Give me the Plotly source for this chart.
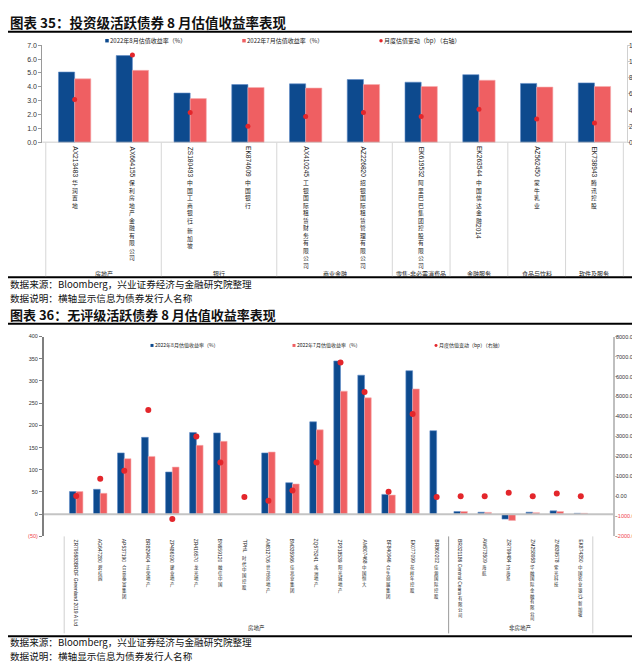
import re
import plotly.graph_objects as go

W, H = 640, 663

# ---------------- Chart 35 data ----------------
c1_labels = ["AX213483华润置地", "AX664155保利房地产金融有限公司", "ZS180493中国工商银行\\新加坡",
             "EK874609中国银行", "AX410245工银国际租赁财务有限公司", "AZ226820招银国际租赁管理有限公司",
             "EK619532阿里巴巴集团控股有限公司", "EK263544中国信达金融 2014", "AZ562450蒙牛乳业",
             "EK738943腾讯控股"]
c1_aug = [5.07, 6.25, 3.56, 4.17, 4.22, 4.53, 4.34, 4.88, 4.25, 4.29]
c1_jul = [4.58, 5.19, 3.16, 3.96, 3.92, 4.17, 4.03, 4.48, 3.99, 4.03]
c1_chg = [53, 108, 37, 20, 32, 37, 32, 41, 29, 24]
c1_group_names = ["房地产", "银行", "商业金融", "零售-非必需消费品", "金融服务", "食品与饮料", "软件及服务"]
c1_group_sizes = [2, 2, 2, 1, 1, 1, 1]
c1_left_ticks = [0, 1, 2, 3, 4, 5, 6, 7]
c1_right_ticks = [0, 20, 40, 60, 80, 100, 120]

# ---------------- Chart 36 data ----------------
c2_labels = ["ZR795683BRDF Greenland 2019 A Ltd", "AG647280碧桂园", "AP537190合景泰富集团",
             "BR829404正荣地产", "ZP486190建业地产", "ZR416570龙光地产", "BN659120融信中国",
             "TPHL 时代中国控股", "AM812706世茂房地产", "BM335966佳兆业集团", "ZQ575241禹洲地产",
             "ZP318539阳光城地产", "AM807468中国恒大", "BF840646合生创展集团", "EK077099花样年控股",
             "BR860202佳源国际控股", "BR321186 Central Ceara有限公司", "AW573509海航",
             "ZR799484泛海系", "ZM258958华融国际金融有限公司", "ZN839578紫光科技",
             "EK874350中国农业银行\\新加坡"]
c2_aug = [51, 56, 138, 173, 95, 184, 183, None, 138, 71, 208, 345, 313, 44.6, 323, 188,
          6, 4.5, -11, 4.5, 7.5, 2]
c2_jul = [51, 47, 125, 130, 106, 155, 164, None, 140, 68, 190, 277, 262, 43, 282, None,
          6, 4, -14, 3.5, 6, 2]
c2_chg = [20, 880, 1290, 4320, -1130, 3000, 1700, -30, -220, 300, 1700, 6700, 5230, 230,
          4120, -30, 15, 15, 180, 15, 150, 15]
c2_group_names = ["房地产", "非房地产"]
c2_group_sizes = [16, 6]
c2_left_ticks = [-50, 0, 50, 100, 150, 200, 250, 300, 350, 400]
c2_right_ticks = [-2000, -1000, 0, 1000, 2000, 3000, 4000, 5000, 6000, 7000, 8000]

legend_texts = ["2022年8月估值收益率（%）", "2022年7月估值收益率（%）", "月度估值变动（bp）（右轴）"]
title1 = "图表 35：投资级活跃债券 8 月估值收益率表现"
title2 = "图表 36：无评级活跃债券 8 月估值收益率表现"
src_text = "数据来源：Bloomberg，兴业证券经济与金融研究院整理"
note_text = "数据说明：横轴显示信息为债券发行人名称"

BLUE = '#0D4A8E'
RED = '#EF5F62'
DOT = '#E3262B'
NEG = '#F0454A'
CJK = "Noto Sans CJK SC"
LAT = "Liberation Sans"


def yp(y):
    return 1 - y / H


def xp(x):
    return x / W


fig = go.Figure()

# chart 35 traces
fig.add_trace(go.Bar(x=c1_labels, y=c1_aug, xaxis='x', yaxis='y',
                     marker=dict(color=BLUE, line=dict(color='#5F8CC8', width=0.6))))
fig.add_trace(go.Bar(x=c1_labels, y=c1_jul, xaxis='x', yaxis='y',
                     marker=dict(color=RED, line=dict(color='#F7AFB0', width=0.6))))
fig.add_trace(go.Scatter(x=c1_labels, y=c1_chg, xaxis='x', yaxis='y2', mode='markers',
                         marker=dict(color=DOT, size=5)))
# chart 36 traces
fig.add_trace(go.Bar(x=c2_labels, y=c2_aug, xaxis='x2', yaxis='y3',
                     marker=dict(color=BLUE, line=dict(color='#5F8CC8', width=0.6))))
fig.add_trace(go.Bar(x=c2_labels, y=c2_jul, xaxis='x2', yaxis='y3',
                     marker=dict(color=RED, line=dict(color='#F7AFB0', width=0.6))))
fig.add_trace(go.Scatter(x=c2_labels, y=c2_chg, xaxis='x2', yaxis='y4', mode='markers',
                         marker=dict(color=DOT, size=6)))

# geometry (pixels)
C1_L, C1_R, C1_T, C1_B = 34.3, 618.8, 33.5, 132
C2_L, C2_R, C2_T, C2_B = 36, 605, 328, 530

hidden_x = dict(showticklabels=False, showline=False, ticks='', showgrid=False, zeroline=False,
                type='category', fixedrange=True)


def neg_span(s):
    return "<span style='color:%s'>%s</span>" % (NEG, s)


fig.update_layout(
    width=W, height=H, autosize=False, showlegend=False,
    margin=dict(l=0, r=0, t=0, b=0),
    paper_bgcolor='white', plot_bgcolor='rgba(0,0,0,0)',
    barmode='group', bargap=0.44, bargroupgap=0,
    font=dict(family=CJK, color='#222'),
    xaxis=dict(domain=[xp(C1_L), xp(C1_R)], anchor='y', **hidden_x),
    yaxis=dict(domain=[yp(C1_B), yp(C1_T)], anchor='x', range=[0, 7],
               tickvals=c1_left_ticks, ticktext=['%.1f' % v for v in c1_left_ticks],
               ticks='outside', ticklen=3, tickcolor='#9a9a9a', showline=True, linecolor='#9a9a9a',
               linewidth=1, showgrid=False, zeroline=False, tickfont=dict(family=LAT, size=7, color='#333')),
    yaxis2=dict(overlaying='y', side='right', anchor='x', range=[0, 120],
                tickvals=c1_right_ticks, showticklabels=False,
                ticks='outside', ticklen=2, tickcolor='#c8c8c8', showline=True, linecolor='#d0d0d0',
                linewidth=1, showgrid=False, zeroline=False),
    xaxis2=dict(domain=[xp(C2_L), xp(C2_R)], anchor='y3', **hidden_x),
    yaxis3=dict(domain=[yp(C2_B), yp(C2_T)], anchor='x2', range=[-50, 400],
                tickvals=c2_left_ticks,
                ticktext=[neg_span('(%d)' % -v) if v < 0 else str(v) for v in c2_left_ticks],
                ticks='outside', ticklen=3, tickcolor='#7f7f7f', showline=True, linecolor='#7f7f7f',
                linewidth=2, showgrid=False, zeroline=False, tickfont=dict(family=LAT, size=5.5, color='#333')),
    yaxis4=dict(overlaying='y3', side='right', anchor='x2', range=[-2000, 8000],
                tickvals=c2_right_ticks, showticklabels=False,
                ticks='outside', ticklen=2, tickcolor='#bfbfbf', showline=True, linecolor='#bfbfbf',
                linewidth=2, showgrid=False, zeroline=False),
)

shapes = []
ann = []


def hline(y, x0=0, x1=W, color='black', width=2):
    shapes.append(dict(type='line', xref='paper', yref='paper', x0=xp(x0), x1=xp(x1),
                       y0=yp(y), y1=yp(y), line=dict(color=color, width=width)))


def text(x, y, s, size, color='#111', anchor='left', family=CJK):
    ann.append(dict(x=xp(x), y=yp(y), xref='paper', yref='paper', text=s, showarrow=False,
                    xanchor=anchor, yanchor='middle', font=dict(size=size, color=color, family=family),
                    borderpad=0, borderwidth=0))


# right-axis tick labels, positioned with the right axes' own scales
for v in c1_right_ticks:
    ann.append(dict(x=xp(620.5), xref='paper', y=v, yref='y2', text=str(v), showarrow=False,
                    xanchor='left', yanchor='middle', font=dict(size=6.5, family=LAT, color='#333'),
                    borderpad=0, borderwidth=0))
for v in c2_right_ticks:
    s = neg_span('%.2f' % v) if v < 0 else '%.2f' % v
    ann.append(dict(x=xp(607.5), xref='paper', y=v, yref='y4', text=s, showarrow=False,
                    xanchor='left', yanchor='middle', font=dict(size=5.5, family=LAT, color='#333'),
                    borderpad=0, borderwidth=0))

# titles, rules, notes
text(2, 10, "<b>%s</b>" % title1, 13.5)
hline(20)
hline(268)
text(2, 275, src_text, 9.6)
text(2, 289, note_text, 9.6)
text(2, 305.5, "<b>%s</b>" % title2, 13)
hline(315)
hline(631)
text(2, 637, src_text, 9.6)
text(2, 651, note_text, 9.6)

# baselines
shapes.append(dict(type='line', xref='paper', yref='y', x0=xp(C1_L), x1=xp(C1_R), y0=0, y1=0,
                   line=dict(color='#bdbdbd', width=1.5)))
shapes.append(dict(type='line', xref='paper', yref='y3', x0=xp(C2_L), x1=xp(C2_R), y0=0, y1=0,
                   line=dict(color='#c4c4c4', width=2)))


# legends
def legend(y, xs, size, sq):
    cols = [BLUE, RED, DOT]
    for i, (x, t) in enumerate(zip(xs, legend_texts)):
        kind = 'rect' if i < 2 else 'circle'
        shapes.append(dict(type=kind, xref='paper', yref='paper', x0=xp(x - sq / 2), x1=xp(x + sq / 2),
                           y0=yp(y + sq / 2), y1=yp(y - sq / 2), fillcolor=cols[i], line=dict(width=0)))
        text(x + sq / 2 + 1, y, t, size, color='#222')


legend(29, [99, 236, 373], 6, 3.5)
legend(337, [144, 286, 428], 5, 3)

# vertical category labels (Latin rotated, CJK upright and stacked)
CJK_RE = r'[\u3000-\u303f\u4e00-\u9fff\uff00-\uffef]'
SEG = re.compile(CJK_RE + '+|[^\u3000-\u303f\u4e00-\u9fff\uff00-\uffef]+')


def latin_w(s):
    w = 0
    for ch in s:
        if ch.isdigit():
            w += 0.556
        elif ch == ' ':
            w += 0.278
        elif ch.isupper():
            w += 0.68
        elif ch in 'iltfjr\\':
            w += 0.28
        else:
            w += 0.55
    return w


def vlabel(xref, cat, y0, fs_lat, fs_cjk):
    y = y0
    for seg in SEG.findall(cat):
        if re.match(CJK_RE, seg):
            ann.append(dict(x=cat, xref=xref, y=yp(y), yref='paper', text='<br>'.join(seg),
                            showarrow=False, xanchor='center', yanchor='top',
                            font=dict(size=fs_cjk, family=CJK, color='#222'),
                            borderpad=0, borderwidth=0))
            y += len(seg) * 1.3 * fs_cjk
        else:
            t = seg.strip()
            y += (len(seg) - len(seg.lstrip())) * 0.278 * fs_lat
            if t:
                L = latin_w(t) * fs_lat
                ann.append(dict(x=cat, xref=xref, y=yp(y + L / 2), yref='paper', text=t, showarrow=False,
                                textangle=90, xanchor='center', yanchor='middle',
                                font=dict(size=fs_lat, family=LAT, color='#222'),
                                borderpad=0, borderwidth=0))
                y += L + 1
            y += (len(seg) - len(seg.rstrip())) * 0.278 * fs_lat


for c in c1_labels:
    vlabel('x', c, 136, 6.6, 5.8)
for c in c2_labels:
    vlabel('x2', c, 533, 5, 4.4)


# group separators and group names
def groups(xref, names, sizes, y0, y1, ylab, fs, colors):
    start = 0
    bounds = [-0.5]
    for nm, n in zip(names, sizes):
        cx = start + (n - 1) / 2.0
        ann.append(dict(x=cx, xref=xref, y=yp(ylab), yref='paper', text=nm, showarrow=False,
                        xanchor='center', yanchor='middle', font=dict(size=fs, family=CJK, color='#222'),
                        borderpad=0, borderwidth=0))
        start += n
        bounds.append(start - 0.5)
    for i, b in enumerate(bounds):
        shapes.append(dict(type='line', xref=xref, yref='paper', x0=b, x1=b, y0=yp(y0), y1=yp(y1),
                           line=dict(color=colors(i, len(bounds)), width=1)))


groups('x', c1_group_names, c1_group_sizes, C1_B, 267, 264, 6,
       lambda i, n: '#d6d6d6')
groups('x2', c2_group_names, c2_group_sizes, C2_B, 628, 623, 5.5,
       lambda i, n: '#9a9a9a' if 0 < i < n - 1 else '#cfcfcf')

fig.update_layout(shapes=shapes, annotations=ann)
fig.write_html("out.html")
